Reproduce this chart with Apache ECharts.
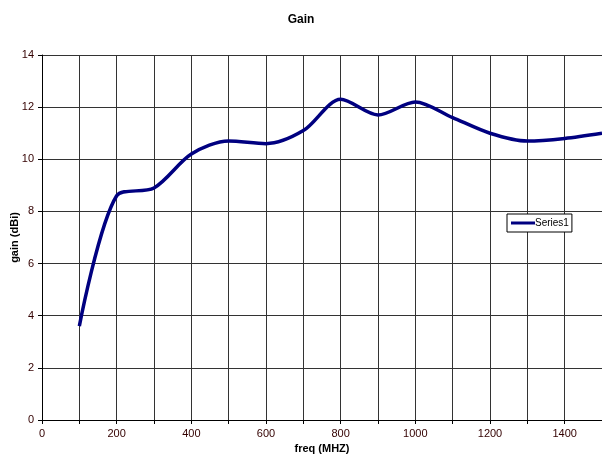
<!DOCTYPE html>
<html style="height: 100%">

<head>
  <meta charset="UTF-8" />
  <title>Gain</title>
  <script src="https://cdn.jsdelivr.net/npm/echarts@6/dist/echarts.min.js"></script>
</head>

<body style="height: 100%; margin: 0">
  <div id="main" style="width: 602px; height: 460px"></div>
  <script>
    const freq = [100, 200, 300, 400, 500, 600, 700, 800, 900, 1000, 1100, 1200, 1300, 1400, 1500];
    const gain = [3.6, 8.6, 8.9, 10.2, 10.7, 10.6, 11.1, 12.3, 11.7, 12.2, 11.6, 11.0, 10.7, 10.8, 11.0];

    const chart = echarts.init(document.getElementById('main'));
    const font = 'Liberation Sans, Arial, sans-serif';

    const option = {
      animation: false,
      title: {
        text: 'Gain',
        left: 'center',
        top: 9,
        textStyle: { fontFamily: font, fontSize: 12, fontWeight: 'bold', color: '#000' },
      },
      legend: {
        data: [{ name: 'Series1', icon: 'rect' }],
        left: 507,
        top: 214,
        orient: 'vertical',
        itemWidth: 24,
        itemHeight: 3,
        itemGap: 0,
        padding: [4, 3, 4, 4],
        backgroundColor: '#fff',
        borderColor: '#000',
        borderWidth: 1,
        borderRadius: 0,
        selectedMode: false,
        textStyle: { fontFamily: font, fontSize: 10, color: '#000', padding: [0, 0, 0, -5] },
      },
      grid: { left: 42, right: 0, top: 55, bottom: 40, containLabel: false, outerBoundsMode: 'none' },
      xAxis: {
        type: 'value',
        min: 0,
        max: 1500,
        interval: 100,
        name: 'freq (MHZ)',
        nameLocation: 'middle',
        nameGap: 23,
        nameMoveOverlap: false,
        nameTextStyle: { fontFamily: font, fontSize: 11, fontWeight: 'bold', color: '#000' },
        axisLine: { lineStyle: { color: '#000' } },
        axisTick: { show: true, inside: false, length: 4, lineStyle: { color: '#000' } },
        axisLabel: {
          fontFamily: font,
          fontSize: 11,
          color: '#300',
          margin: 8,
          formatter: function (v) { return v % 200 === 0 && v < 1500 ? v : ''; },
        },
        splitLine: { show: true, lineStyle: { color: '#333', width: 1 } },
      },
      yAxis: {
        type: 'value',
        min: 0,
        max: 14,
        interval: 2,
        name: 'gain (dBi)',
        nameLocation: 'middle',
        nameGap: 22,
        nameMoveOverlap: false,
        nameTextStyle: { fontFamily: font, fontSize: 11, fontWeight: 'bold', color: '#000' },
        axisLine: { show: true, lineStyle: { color: '#000' } },
        axisTick: { show: true, inside: false, length: 4, lineStyle: { color: '#000' } },
        axisLabel: { fontFamily: font, fontSize: 11, color: '#300', margin: 8 },
        splitLine: { show: true, lineStyle: { color: '#333', width: 1 } },
      },
      series: [
        {
          name: 'Series1',
          type: 'line',
          smooth: 0.3,
          showSymbol: false,
          symbol: 'none',
          color: '#000080',
          lineStyle: { color: '#000080', width: 3.5 },
          data: freq.map(function (f, i) { return [f, gain[i]]; }),
        },
      ],
    };

    chart.setOption(option);
  </script>
</body>

</html>
